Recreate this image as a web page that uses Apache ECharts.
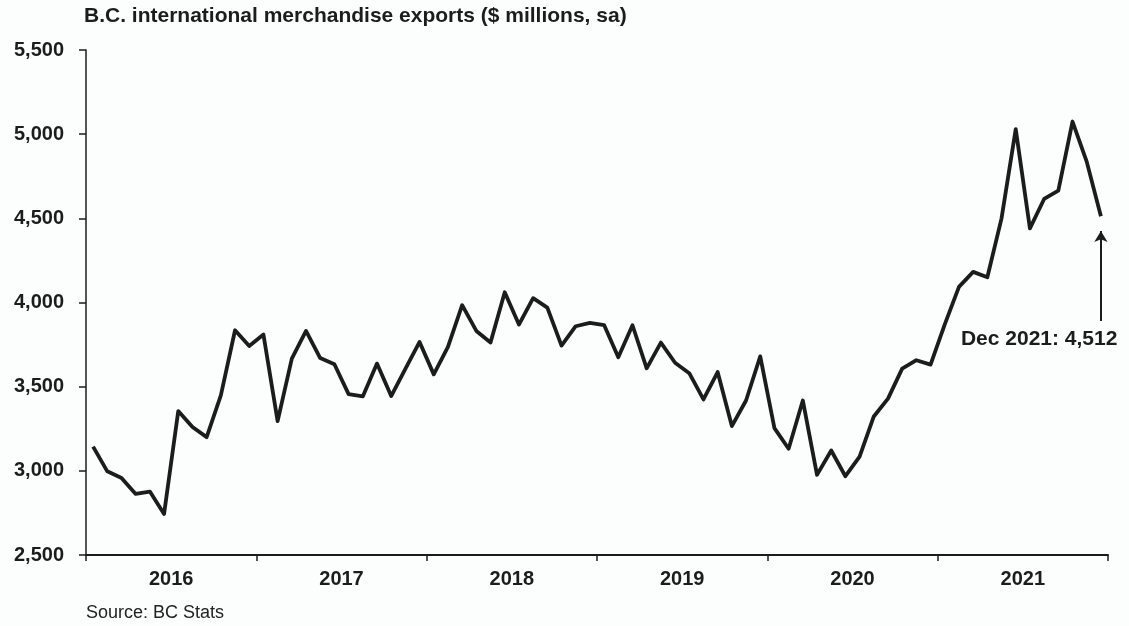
<!DOCTYPE html>
<html>
<head>
<meta charset="utf-8">
<script src="https://cdn.jsdelivr.net/npm/echarts@6/dist/echarts.min.js"></script>
<style>
html,body{margin:0;padding:0;background:#fcfdfd;}
#chart{width:1129px;height:626px;}
</style>
</head>
<body>
<div id="chart"></div>
<script>
// Data (monthly, Jan 2016 - Dec 2021), $ millions, seasonally adjusted
const years = ['2016','2017','2018','2019','2020','2021'];
const values2016 = [3144, 2997, 2958, 2863, 2877, 2744, 3355, 3260, 3200, 3448, 3835, 3742];
const values2017 = [3810, 3295, 3667, 3831, 3670, 3633, 3456, 3442, 3637, 3444, 3605, 3766];
const values2018 = [3573, 3736, 3984, 3831, 3762, 4061, 3869, 4026, 3970, 3744, 3859, 3879];
const values2019 = [3866, 3675, 3865, 3609, 3762, 3642, 3580, 3424, 3587, 3266, 3418, 3680];
const values2020 = [3254, 3131, 3418, 2976, 3121, 2968, 3085, 3323, 3429, 3607, 3657, 3631];
const values2021 = [3870, 4093, 4182, 4150, 4500, 5030, 4440, 4615, 4664, 5075, 4837, 4512];
const yTicks = [2500, 3000, 3500, 4000, 4500, 5000, 5500];
const titleText = 'B.C. international merchandise exports ($ millions, sa)';
const sourceText = 'Source: BC Stats';
const annotationText = 'Dec 2021: 4,512';

const allValues = [].concat(values2016, values2017, values2018, values2019, values2020, values2021);
const seriesData = allValues.map((v, i) => [i + 0.5, v]);
const nMonths = allValues.length;
const lastIdx = nMonths - 1;

const fmt = v => v.toLocaleString('en-US');
const FONT = '"Liberation Sans", Arial, sans-serif';
const INK = '#1c1c1c';

const chart = echarts.init(document.getElementById('chart'), null, {renderer: 'canvas'});
const option = {
  backgroundColor: '#fcfdfd',
  animation: false,
  title: {
    text: titleText,
    left: 84, top: 6, padding: 0,
    textStyle: {fontFamily: FONT, fontWeight: 'bold', fontSize: 21, color: INK}
  },
  grid: {left: 86, right: 21, top: 50, bottom: 71, containLabel: false},
  xAxis: [
    {
      type: 'value', min: 0, max: nMonths, interval: 12,
      axisLine: {show: true, lineStyle: {color: INK, width: 2}},
      axisTick: {show: true, length: 6, lineStyle: {color: INK, width: 1.5}},
      axisLabel: {show: false},
      splitLine: {show: false}
    },
    {
      type: 'value', min: 0, max: nMonths, interval: 6,
      position: 'bottom',
      axisLine: {show: false},
      axisTick: {show: false},
      splitLine: {show: false},
      axisLabel: {
        show: true, margin: 14,
        fontFamily: FONT, fontWeight: 'bold', fontSize: 20, color: INK,
        formatter: v => (v % 12 === 6) ? years[(v - 6) / 12] : ''
      }
    }
  ],
  yAxis: {
    type: 'value', min: yTicks[0], max: yTicks[yTicks.length - 1], interval: 500,
    axisLine: {show: true, lineStyle: {color: INK, width: 1.5}},
    axisTick: {show: true, length: 7, lineStyle: {color: INK, width: 1.5}},
    splitLine: {show: false},
    axisLabel: {
      margin: 22, fontFamily: FONT, fontWeight: 'bold', fontSize: 20, color: INK,
      formatter: v => fmt(v)
    }
  },
  series: [
    {
      type: 'line',
      xAxisIndex: 0,
      data: seriesData,
      showSymbol: false,
      symbol: 'none',
      lineStyle: {color: INK, width: 3.8, join: 'round', cap: 'butt'},
      markLine: {
        silent: true,
        symbol: ['none', 'arrow'],
        symbolSize: [10, 11],
        lineStyle: {color: INK, width: 2, type: 'solid'},
        label: {show: false},
        data: [[
          {coord: [lastIdx + 0.5, 3890]},
          {coord: [lastIdx + 0.5, 4425]}
        ]]
      },
      markPoint: {
        silent: true,
        symbol: 'circle',
        symbolSize: 1,
        itemStyle: {color: 'rgba(0,0,0,0)'},
        label: {
          show: true, position: 'inside',
          fontFamily: FONT, fontWeight: 'bold', fontSize: 21, color: INK,
          formatter: annotationText
        },
        data: [{coord: [67.15, 3779]}]
      }
    }
  ],
  graphic: [
    {
      type: 'text', left: 86, top: 604,
      style: {text: sourceText, font: '18px ' + FONT, fill: '#222'}
    }
  ]
};
chart.setOption(option);
</script>
</body>
</html>
